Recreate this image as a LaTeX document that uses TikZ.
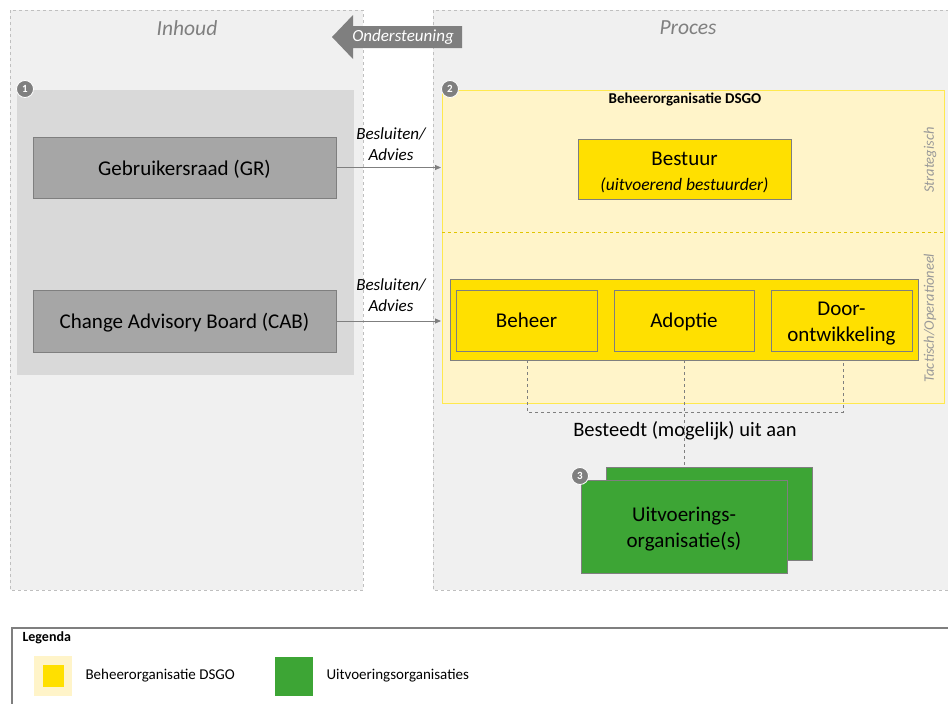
\documentclass[tikz,border=0pt]{standalone}
\usepackage{fontspec}
\setmainfont{Carlito}
\usetikzlibrary{arrows.meta}
\definecolor{panelbg}{HTML}{F0F0F0}
\definecolor{innerbg}{HTML}{D9D9D9}
\definecolor{boxgray}{HTML}{A6A6A6}
\definecolor{edgegray}{HTML}{7F7F7F}
\definecolor{dashgray}{HTML}{BFBFBF}
\definecolor{ylight}{HTML}{FFF4C9}
\definecolor{ystrong}{HTML}{FFE000}
\definecolor{yedge}{HTML}{FFE94D}
\definecolor{grn}{HTML}{3DA535}
\newcommand\lowtext[2][3pt]{\raisebox{-#1}[\height][\depth]{\begin{tabular}{@{}c@{}}#2\end{tabular}}}
\begin{document}
\begin{tikzpicture}[x=1pt,y=-1pt,
  panel/.style={draw=dashgray,dashed,fill=panelbg,line width=0.7pt},
  graybox/.style={draw=edgegray,fill=boxgray,line width=0.8pt,font=\fontsize{21}{25}\selectfont,align=center},
  ybox/.style={draw=edgegray,fill=ystrong,line width=0.8pt,font=\fontsize{21}{25.5}\selectfont,align=center},
  gbox/.style={draw=edgegray,fill=grn,line width=0.8pt,font=\fontsize{21}{25.5}\selectfont,align=center},
  badge/.style={circle,fill=edgegray,draw=white,line width=0.8pt,minimum size=17pt,inner sep=0pt,text=white,font=\fontsize{11}{11}\selectfont\bfseries},
  flow/.style={draw=edgegray,line width=0.8pt,-{Triangle[length=6pt,width=5pt]}},
  conn/.style={draw=edgegray,dashed,line width=0.8pt},
  lbl/.style={font=\fontsize{17}{21}\selectfont\itshape,align=center},
  side/.style={font=\fontsize{14.5}{14.5}\selectfont\itshape,text=dashgray!80!black,rotate=90},
  title/.style={font=\fontsize{21.5}{21.5}\selectfont\itshape,text=edgegray}
]
\useasboundingbox (0,0) rectangle (948,704);
% panels
\draw[panel] (10,10) rectangle (363,590);
\draw[panel] (433,10) rectangle (960,590);
\node[title] (inhoud) at (187,28) {Inhoud};
\node[title] (proces) at (688,28) {Proces};
% Ondersteuning arrow
\fill[edgegray] (332,37) -- (353,15) -- (353,26) -- (462,26) -- (462,48) -- (353,48) -- (353,59) -- cycle;
\node[font=\fontsize{17}{17}\selectfont\itshape,text=white] (onder) at (403,37) {Ondersteuning};
% left inner panel
\fill[innerbg] (17,90) rectangle (354,375);
\node[graybox,minimum width=303pt,minimum height=61pt] (gr) at (184.5,167.5) {\lowtext{Gebruikersraad (GR)}};
\node[graybox,minimum width=303pt,minimum height=62pt] (cab) at (184.5,321) {\lowtext[2pt]{Change Advisory Board (CAB)}};
% right yellow panel
\draw[draw=yedge,fill=ylight,line width=1pt] (442,90) rectangle (944,403);
\draw[draw=ystrong!80!black!60!ystrong,dashed,line width=0.8pt] (442,232) -- (944,232);
\node[font=\fontsize{15}{15}\selectfont\bfseries] (dsgo) at (685,99) {Beheerorganisatie DSGO};
\node[ybox,minimum width=213pt,minimum height=60pt] (bestuur) at (684.5,169) {\lowtext[4pt]{Bestuur\\[-1pt]{\fontsize{17.5}{20}\selectfont\itshape (uitvoerend bestuurder)}}};
\node[side] (strat) at (930,160) {Strategisch};
\node[side] (tact) at (930,318) {Tactisch/Operationeel};
\node[draw=edgegray,fill=ystrong,line width=0.8pt,minimum width=468pt,minimum height=81pt] (ops) at (684,319.5) {};
\node[ybox,minimum width=141pt,minimum height=61pt] (beheer) at (526.5,320.5) {\lowtext[2pt]{Beheer}};
\node[ybox,minimum width=140pt,minimum height=61pt] (adoptie) at (684,320.5) {\lowtext[2pt]{Adoptie}};
\node[ybox,minimum width=141pt,minimum height=61pt] (door) at (841.5,320.5) {\lowtext{Door-\\ontwikkeling}};
% flows
\draw[flow] (gr.east) -- (441,167.5) coordinate (t1);
\draw[flow] (cab.east) -- (441,321) coordinate (t2);
\node[lbl] (l1) at (391,144) {Besluiten/\\Advies};
\node[lbl] (l2) at (391,295) {Besluiten/\\Advies};
% dashed connectors
\coordinate (j1) at (527,412);
\coordinate (j2) at (843,412);
\draw[conn] (527,360) -- (j1) -- (j2) -- (843,360);
% green boxes
\node[gbox,minimum width=206pt,minimum height=93pt] (uitback) at (709,513.5) {};
\draw[conn] (684,360) -- (uitback.north -| 684,0);
\node[font=\fontsize{20.5}{20.5}\selectfont] (besteedt) at (685,431) {Besteedt (mogelijk) uit aan};
\node[gbox,minimum width=206pt,minimum height=93pt] (uit) at (684,526.5) {\lowtext{Uitvoerings-\\organisatie(s)}};
% badges
\node[badge] (b1) at (25,89) {1};
\node[badge] (b2) at (450,89) {2};
\node[badge] (b3) at (580,476) {3};
% legend
\draw[draw=edgegray,line width=1.2pt] (12,720) -- (12,628) -- (960,628);
\node[anchor=west,font=\fontsize{14}{14}\selectfont\bfseries] (leg) at (19,638) {Legenda};
\fill[ylight] (34,656) rectangle (72,696);
\node[fill=ystrong,minimum width=21pt,minimum height=22pt,inner sep=0pt] (ly) at (53,676) {};
\node[anchor=west,font=\fontsize{15}{15}\selectfont] (lyt) at (82,676) {Beheerorganisatie DSGO};
\node[fill=grn,minimum width=38pt,minimum height=39pt,inner sep=0pt] (lg) at (293.5,676) {};
\node[anchor=west,font=\fontsize{15}{15}\selectfont] (lgt) at (323,676) {Uitvoeringsorganisaties};
\end{tikzpicture}
\end{document}
